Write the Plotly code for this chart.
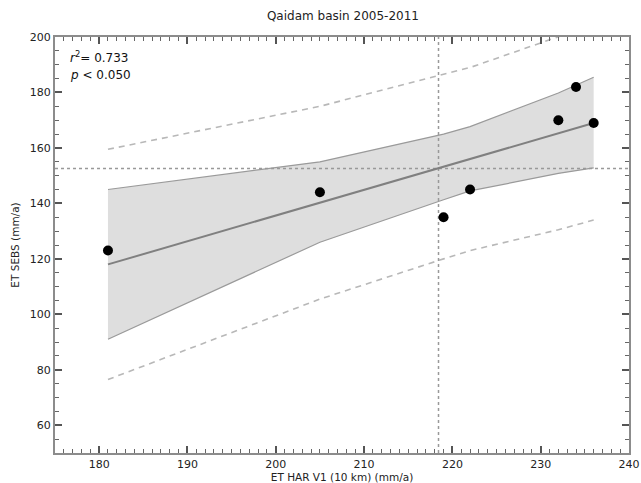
import numpy as np
import plotly.graph_objects as go

# Data
x_har = [181, 205, 219, 222, 232, 234, 236]
y_sebs = [123, 144, 135, 145, 170, 182, 169]

fit_y = [118.0, 140.2, 153.3, 156.0, 165.3, 167.2, 169.0]
ci_upper = [145.0, 155.0, 165.0, 167.7, 179.8, 182.7, 185.5]
ci_lower = [91.0, 126.0, 141.3, 144.5, 150.8, 151.7, 152.8]
pi_upper = [159.5, 175.0, 186.6, 189.0, 200.1, 202.2, 204.0]
pi_lower = [76.5, 105.5, 120.0, 123.0, 130.5, 132.2, 134.0]

r2_text = "0.733"
p_text = "0.050"

mean_x = float(np.mean(x_har))
mean_y = float(np.mean(y_sebs))

x_range = [175, 240]
y_range = [50, 200]

FONT = "DejaVu Sans"

fig = go.Figure()

# confidence band
fig.add_trace(go.Scatter(x=x_har, y=ci_lower, mode="lines",
                         line=dict(color="#9a9a9a", width=1.2),
                         hoverinfo="skip", showlegend=False))
fig.add_trace(go.Scatter(x=x_har, y=ci_upper, mode="lines",
                         line=dict(color="#9a9a9a", width=1.2),
                         fill="tonexty", fillcolor="rgba(200,200,200,0.6)",
                         hoverinfo="skip", showlegend=False))

# prediction band (dashed)
for band in (pi_upper, pi_lower):
    fig.add_trace(go.Scatter(x=x_har, y=band, mode="lines",
                             line=dict(color="#b8b8b8", width=1.6, dash="6px,5px"),
                             hoverinfo="skip", showlegend=False))

# mean lines (dotted)
fig.add_trace(go.Scatter(x=[mean_x, mean_x], y=y_range, mode="lines",
                         line=dict(color="#999999", width=1.5, dash="dot"),
                         hoverinfo="skip", showlegend=False))
fig.add_trace(go.Scatter(x=x_range, y=[mean_y, mean_y], mode="lines",
                         line=dict(color="#999999", width=1.5, dash="dot"),
                         hoverinfo="skip", showlegend=False))

# regression line
fig.add_trace(go.Scatter(x=x_har, y=fit_y, mode="lines",
                         line=dict(color="#808080", width=2),
                         hoverinfo="skip", showlegend=False))

# data points
fig.add_trace(go.Scatter(x=x_har, y=y_sebs, mode="markers",
                         marker=dict(color="black", size=10),
                         showlegend=False))

axis_common = dict(
    showgrid=False, zeroline=False, automargin=False,
    showline=True, linecolor="#8c8c8c", linewidth=2, mirror="allticks",
    ticks="inside", ticklen=7, tickwidth=1.5, tickcolor="#555555",
    tickfont=dict(family=FONT, size=11, color="#222222"),
)

fig.update_layout(
    width=641, height=483,
    margin=dict(l=55, r=12, t=37, b=30, autoexpand=False),
    paper_bgcolor="white", plot_bgcolor="white",
    font=dict(family=FONT, color="#222222"),
    title=dict(text="Qaidam basin 2005-2011", x=0.535, xanchor="center",
               y=0.968, yanchor="middle", automargin=False,
               font=dict(family=FONT, size=12, color="#222222")),
    xaxis=dict(range=x_range, dtick=10, tick0=180,
               minor=dict(dtick=1, ticks="inside", ticklen=4, tickcolor="#666666", tickwidth=1),
               title=dict(text="ET HAR V1 (10 km) (mm/a)", standoff=2,
                          font=dict(family=FONT, size=10.5, color="#222222")),
               **axis_common),
    yaxis=dict(range=y_range, dtick=20, tick0=60,
               minor=dict(dtick=5, ticks="inside", ticklen=4, tickcolor="#666666", tickwidth=1),
               title=dict(text="ET SEBS (mm/a)", standoff=8,
                          font=dict(family=FONT, size=10.5, color="#222222")),
               **axis_common),
    annotations=[
        dict(xref="paper", yref="paper", x=0.022, y=0.952, xanchor="left", yanchor="middle",
             text="<i>r</i><sup>2</sup>= " + r2_text, showarrow=False,
             font=dict(family=FONT, size=12, color="#111111")),
        dict(xref="paper", yref="paper", x=0.022, y=0.908, xanchor="left", yanchor="middle",
             text="<i>p</i> < " + p_text, showarrow=False,
             font=dict(family=FONT, size=12, color="#111111")),
    ],
)

fig.write_html("out.html",
               config={"displayModeBar": False},
               post_script="document.body.style.margin='0px';document.body.style.overflow='hidden';")
